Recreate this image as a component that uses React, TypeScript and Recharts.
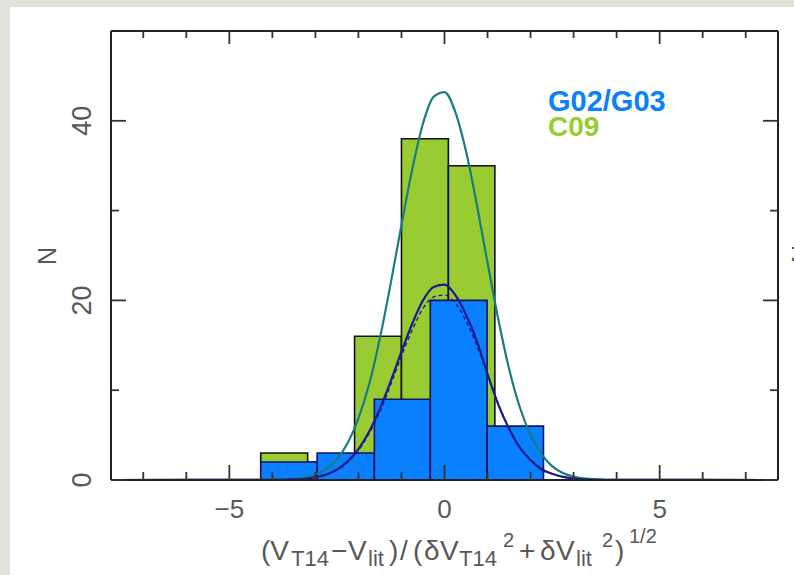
import React from "react";
import { ComposedChart, Line, ReferenceArea, XAxis, YAxis } from "recharts";

// C09 histogram: bin edges (sigma units) and counts
const c09Left = [-4.27, -3.18, -2.09, -1.0, 0.09, 1.17];
const c09Right = [-3.18, -2.09, -1.0, 0.09, 1.17, 2.26];
const c09Counts = [3, 2, 16, 38, 35, 5];

// G02/G03 histogram
const g02Left = [-4.27, -2.96, -1.63, -0.33, 0.99];
const g02Right = [-2.96, -1.63, -0.33, 0.99, 2.3];
const g02Counts = [2, 3, 9, 20, 6];

// gaussian fits
const fitX = [-7.75, -4, -3.5, -3, -2.75, -2.5, -2.25, -2, -1.75, -1.5, -1.25, -1, -0.75, -0.5, -0.25, 0, 0.25, 0.5, 0.75, 1, 1.25, 1.5, 1.75, 2, 2.25, 2.5, 2.75, 3, 3.5, 4, 7.75];
const c09Fit = [0, 0.02, 0.12, 0.61, 1.23, 2.31, 4.11, 6.85, 10.7, 15.8, 21.9, 28.4, 34.6, 39.7, 42.7, 43.2, 41.0, 36.6, 30.7, 24.2, 17.9, 12.4, 8.1, 5.0, 2.9, 1.55, 0.79, 0.38, 0.07, 0.01, 0];
const g02Fit = [0, 0.01, 0.06, 0.31, 0.62, 1.16, 2.07, 3.45, 5.41, 7.95, 11.0, 14.3, 17.4, 20.0, 21.5, 21.75, 20.6, 18.4, 15.5, 11.8, 8.4, 5.7, 3.6, 2.2, 1.2, 0.7, 0.35, 0.17, 0.04, 0.01, 0];
const g02Fit2 = [0, 0.01, 0.05, 0.28, 0.58, 1.1, 1.98, 3.3, 5.2, 7.6, 10.6, 13.8, 16.7, 19.1, 20.4, 20.6, 19.7, 17.7, 15.0, 11.7, 8.5, 5.8, 3.7, 2.3, 1.3, 0.7, 0.35, 0.16, 0.03, 0.01, 0];

const xTicks = [-7, -6, -5, -4, -3, -2, -1, 0, 1, 2, 3, 4, 5, 6, 7];
const xLabels = [-5, 0, 5];
const yTicks = [0, 10, 20, 30, 40];
const yLabels = [0, 20, 40];

const GREEN = "#99cc33";
const BLUE = "#0a80ff";
const TEAL = "#1b7c80";
const NAVY = "#1c1c8c";
const FRAME = "#222";
const TICK = "#333";
const GRAY = "#585858";
const FONT = "'Liberation Sans', Arial, Helvetica, sans-serif";

const fmt = (v: number) => (v < 0 ? `\u2212${Math.abs(v)}` : `${v}`);

function BottomTick(props: any) {
  const { x, y, payload } = props;
  const major = xLabels.includes(payload.value);
  return (
    <g>
      <line x1={x} y1={y} x2={x} y2={y - (major ? 15 : 8)} stroke={TICK} strokeWidth={1.8} />
      {major && (
        <text x={x} y={y + 38} textAnchor="middle" fontSize={26} fill={GRAY} fontFamily={FONT}>
          {fmt(payload.value)}
        </text>
      )}
    </g>
  );
}

function TopTick(props: any) {
  const { x, y, payload } = props;
  const major = xLabels.includes(payload.value);
  return <line x1={x} y1={y} x2={x} y2={y + (major ? 13 : 7)} stroke={TICK} strokeWidth={1.8} />;
}

function LeftTick(props: any) {
  const { x, y, payload } = props;
  const major = yLabels.includes(payload.value);
  const lx = x - 29;
  return (
    <g>
      <line x1={x} y1={y} x2={x + (major ? 15 : 8)} y2={y} stroke={TICK} strokeWidth={1.8} />
      {major && (
        <text
          x={lx}
          y={y}
          transform={`rotate(-90, ${lx}, ${y})`}
          textAnchor="middle"
          dominantBaseline="central"
          fontSize={27}
          fill={GRAY}
          fontFamily={FONT}
        >
          {payload.value}
        </text>
      )}
    </g>
  );
}

function RightTick(props: any) {
  const { x, y, payload } = props;
  const major = yLabels.includes(payload.value);
  return <line x1={x} y1={y} x2={x - (major ? 15 : 8)} y2={y} stroke={TICK} strokeWidth={1.8} />;
}

export default function App() {
  const c09Rows = fitX.map((x, i) => ({ x, y: c09Fit[i] }));
  const g02Rows = fitX.map((x, i) => ({ x, y: g02Fit[i] }));
  const g02Rows2 = fitX.map((x, i) => ({ x, y: g02Fit2[i] }));

  return (
    <div style={{ position: "absolute", left: 0, top: 0, width: 794, height: 575, background: "#e3e1dc", overflow: "hidden" }}>
      <div style={{ position: "absolute", left: 10, top: 7, right: 0, bottom: 0, background: "#fff" }} />
      <div style={{ position: "absolute", left: 0, top: 0 }}>
        <ComposedChart width={794} height={575} margin={{ top: 30, right: 15, bottom: 35, left: 51 }}>
          <XAxis
            type="number"
            dataKey="x"
            domain={[-7.75, 7.75]}
            allowDataOverflow
            ticks={xTicks}
            interval={0}
            height={60}
            tickSize={0}
            tickMargin={0}
            tickLine={false}
            axisLine={{ stroke: FRAME, strokeWidth: 2 }}
            tick={(p: any) => <BottomTick {...p} />}
          />
          <XAxis
            xAxisId="top"
            orientation="top"
            type="number"
            dataKey="x"
            domain={[-7.75, 7.75]}
            allowDataOverflow
            ticks={xTicks}
            interval={0}
            height={1}
            tickSize={0}
            tickMargin={0}
            tickLine={false}
            axisLine={{ stroke: FRAME, strokeWidth: 2 }}
            tick={(p: any) => <TopTick {...p} />}
          />
          <YAxis
            type="number"
            domain={[0, 50]}
            allowDataOverflow
            ticks={yTicks}
            interval={0}
            width={60}
            tickSize={0}
            tickMargin={0}
            tickLine={false}
            axisLine={{ stroke: FRAME, strokeWidth: 2 }}
            tick={(p: any) => <LeftTick {...p} />}
          />
          <YAxis
            yAxisId="r"
            orientation="right"
            type="number"
            domain={[0, 50]}
            allowDataOverflow
            ticks={yTicks}
            interval={0}
            width={1}
            tickSize={0}
            tickMargin={0}
            tickLine={false}
            axisLine={{ stroke: FRAME, strokeWidth: 2 }}
            tick={(p: any) => <RightTick {...p} />}
          />

          {c09Counts.map((n, i) => (
            <ReferenceArea
              key={`c09-${i}`}
              x1={c09Left[i]}
              x2={c09Right[i]}
              y1={0}
              y2={n}
              fill={GREEN}
              fillOpacity={1}
              stroke="#111"
              strokeWidth={1.6}
              ifOverflow="visible"
            />
          ))}
          {g02Counts.map((n, i) => (
            <ReferenceArea
              key={`g02-${i}`}
              x1={g02Left[i]}
              x2={g02Right[i]}
              y1={0}
              y2={n}
              fill={BLUE}
              fillOpacity={1}
              stroke="#12125e"
              strokeWidth={1.6}
              ifOverflow="visible"
            />
          ))}

          <Line data={c09Rows} dataKey="y" type="monotone" stroke={TEAL} strokeWidth={2.2} dot={false} isAnimationActive={false} />
          <Line data={g02Rows2} dataKey="y" type="monotone" stroke={NAVY} strokeWidth={1.4} strokeDasharray="4 3" dot={false} isAnimationActive={false} />
          <Line data={g02Rows} dataKey="y" type="monotone" stroke={NAVY} strokeWidth={2.2} dot={false} isAnimationActive={false} />
        </ComposedChart>
      </div>
      <svg width={794} height={575} style={{ position: "absolute", left: 0, top: 0, pointerEvents: "none" }}>
        <text x={548} y={111} fontSize={29} fontWeight="bold" fill={BLUE} fontFamily={FONT}>G02/G03</text>
        <text x={548} y={136} fontSize={28} fontWeight="bold" fill={GREEN} fontFamily={FONT}>C09</text>
        <text x={47} y={256} transform="rotate(-90, 47, 256)" textAnchor="middle" dominantBaseline="central" fontSize={25} fill={GRAY} fontFamily={FONT}>N</text>
        <text x={801} y={254} transform="rotate(-90, 801, 254)" textAnchor="middle" dominantBaseline="central" fontSize={25} fill={GRAY} fontFamily={FONT}>N</text>
        <text fill={GRAY} fontFamily={FONT}>
          <tspan x={261} y={560} fontSize={28}>(V</tspan>
          <tspan x={291} y={566} fontSize={22}>T14</tspan>
          <tspan x={331} y={560} fontSize={28}>{"\u2212"}</tspan>
          <tspan x={348} y={560} fontSize={28}>V</tspan>
          <tspan x={368} y={566} fontSize={22}>lit</tspan>
          <tspan x={389} y={560} fontSize={28}>)</tspan>
          <tspan x={400} y={560} fontSize={28}>/</tspan>
          <tspan x={413} y={560} fontSize={28}>(</tspan>
          <tspan x={424} y={560} fontSize={28}>{"\u03b4"}</tspan>
          <tspan x={440} y={560} fontSize={28}>V</tspan>
          <tspan x={459} y={566} fontSize={22}>T14</tspan>
          <tspan x={503} y={547} fontSize={20}>2</tspan>
          <tspan x={519} y={560} fontSize={28}>+</tspan>
          <tspan x={540} y={560} fontSize={28}>{"\u03b4"}</tspan>
          <tspan x={556} y={560} fontSize={28}>V</tspan>
          <tspan x={576} y={566} fontSize={22}>lit</tspan>
          <tspan x={602} y={547} fontSize={20}>2</tspan>
          <tspan x={615} y={560} fontSize={28}>)</tspan>
          <tspan x={629} y={543} fontSize={20}>1/2</tspan>
        </text>
      </svg>
    </div>
  );
}
